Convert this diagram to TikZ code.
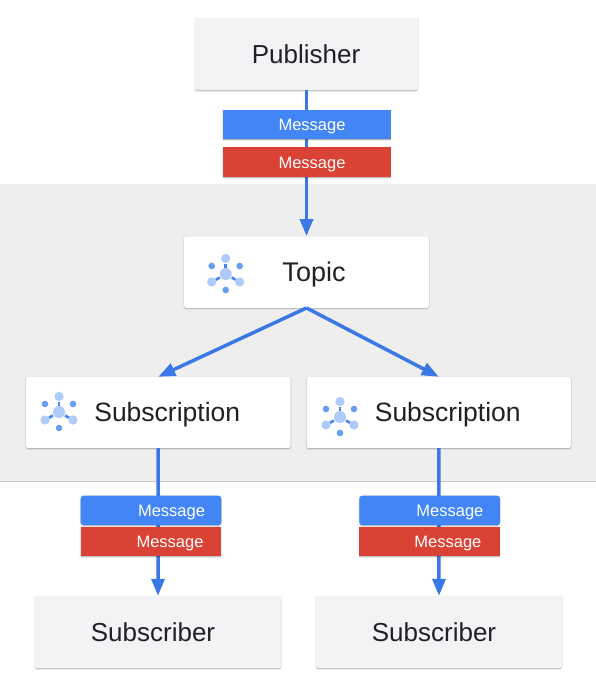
\documentclass[tikz,border=0pt]{standalone}
\usepackage{fontspec}
\setmainfont{Liberation Sans}
\usetikzlibrary{arrows.meta,shadows}
\definecolor{msgblue}{HTML}{4285F4}
\definecolor{msgred}{HTML}{D94235}
\definecolor{lineblue}{HTML}{3B78E7}
\definecolor{boxgray}{HTML}{F1F3F4}
\definecolor{bandgray}{HTML}{EEEEEE}
\definecolor{inkgray}{HTML}{202124}
\definecolor{iconlight}{HTML}{AECBFA}
\definecolor{iconmid}{HTML}{669DF6}
\tikzset{>={Triangle[width=13pt,length=17pt]},
  softshadow/.style={
    general shadow={shadow xshift=0pt,shadow yshift=-1.8pt,opacity=0.08,fill=black},
    general shadow={shadow xshift=0pt,shadow yshift=-0.9pt,opacity=0.18,fill=black},
    general shadow={shadow xshift=0pt,shadow yshift=0pt,shadow scale=1.006,opacity=0.08,fill=black}},
  card/.style={inner sep=0,rounded corners=1.5pt,text=inkgray,font=\fontsize{26}{30}\selectfont,
    text height=22pt,text depth=4pt,softshadow},
  graycard/.style={card,fill=boxgray},
  whitecard/.style={card,fill=white},
  msgbox/.style={inner sep=0,text=white,font=\fontsize{16.5}{20}\selectfont,
    minimum height=29.5pt,text height=14pt,text depth=2pt,softshadow},
  link/.style={line width=3.5pt,lineblue},
  pics/hubicon/.style={code={
    \fill[msgblue] (-1.3,-10.5) rectangle (1.3,-6.5);
    \draw[line width=2.6pt,msgblue] (-10,5.8) -- (-6,3.5);
    \draw[line width=2.6pt,msgblue] (10,5.8) -- (6,3.5);
    \fill[iconlight] (0,0) circle (6);
    \fill[iconlight] (0,-15.5) circle (4.6);
    \fill[iconlight] (-14,8) circle (4.6);
    \fill[iconlight] (14,8) circle (4.6);
    \fill[iconmid] (-14,-8) circle (3.3);
    \fill[iconmid] (14,-8) circle (3.3);
    \fill[iconmid] (0,16) circle (3.3);
  }}
}

\begin{document}
\begin{tikzpicture}[x=1pt,y=-1pt]
  \useasboundingbox (0,0) rectangle (596,686);

  % Band behind topic and subscriptions
  \fill[bandgray] (0,184) rectangle (596,481);
  \draw[line width=1pt,black!22] (0,481) -- (596,481);

  % Boxes
  \node[graycard,minimum width=223pt,minimum height=72pt] (Publisher) at (306.5,54) {\hspace*{-1pt}Publisher};
  \node[whitecard,font=\fontsize{27}{30}\selectfont,text height=23pt,minimum width=245pt,minimum height=71.5pt] (Topic) at (306.5,272) {\hspace*{15pt}Topic};
  \node[whitecard,font=\fontsize{26.5}{30}\selectfont,minimum width=264.5pt,minimum height=71pt] (SubLeft) at (158.25,412.5) {\hspace*{18pt}Subscription};
  \node[whitecard,font=\fontsize{26.5}{30}\selectfont,minimum width=264.5pt,minimum height=71pt] (SubRight) at (438.75,412.5) {\hspace*{18pt}Subscription};
  \node[graycard,minimum width=246pt,minimum height=72pt] (SubscriberLeft) at (158,632) {\hspace*{-10pt}Subscriber};
  \node[graycard,minimum width=246pt,minimum height=72pt] (SubscriberRight) at (439,632) {\hspace*{-10pt}Subscriber};

  % Connectors
  \draw[link,->] (Publisher.south) -- (Topic.north);
  \draw[link,->] (Topic.south) -- (SubLeft.north);
  \draw[link,->] (Topic.south) -- (SubRight.north);
  \draw[link,->] (SubLeft.south) -- (SubscriberLeft.north);
  \draw[link,->] (SubRight.south) -- (SubscriberRight.north);

  % Messages
  \node[msgbox,fill=msgblue,minimum width=168pt] (MsgTopBlue) at (306.7,124.7) {\hspace*{10.6pt}Message};
  \node[msgbox,fill=msgred,minimum width=168pt] (MsgTopRed) at (306.7,162.2) {\hspace*{10.6pt}Message};
  \node[msgbox,fill=msgred,minimum width=140.6pt] (MsgLeftRed) at (151,541.4) {\hspace*{38pt}Message};
  \node[msgbox,fill=msgblue,rounded corners=3pt,minimum width=140.6pt] (MsgLeftBlue) at (151,510.4) {\hspace*{41pt}Message};
  \node[msgbox,fill=msgred,minimum width=140.6pt] (MsgRightRed) at (429.7,541.4) {\hspace*{36.5pt}Message};
  \node[msgbox,fill=msgblue,rounded corners=3pt,minimum width=140.6pt] (MsgRightBlue) at (429.7,510.4) {\hspace*{40.5pt}Message};

  % Icons
  \pic at (225.7,274) {hubicon};
  \pic at (59,412) {hubicon};
  \pic at (340,417) {hubicon};
\end{tikzpicture}
\end{document}
